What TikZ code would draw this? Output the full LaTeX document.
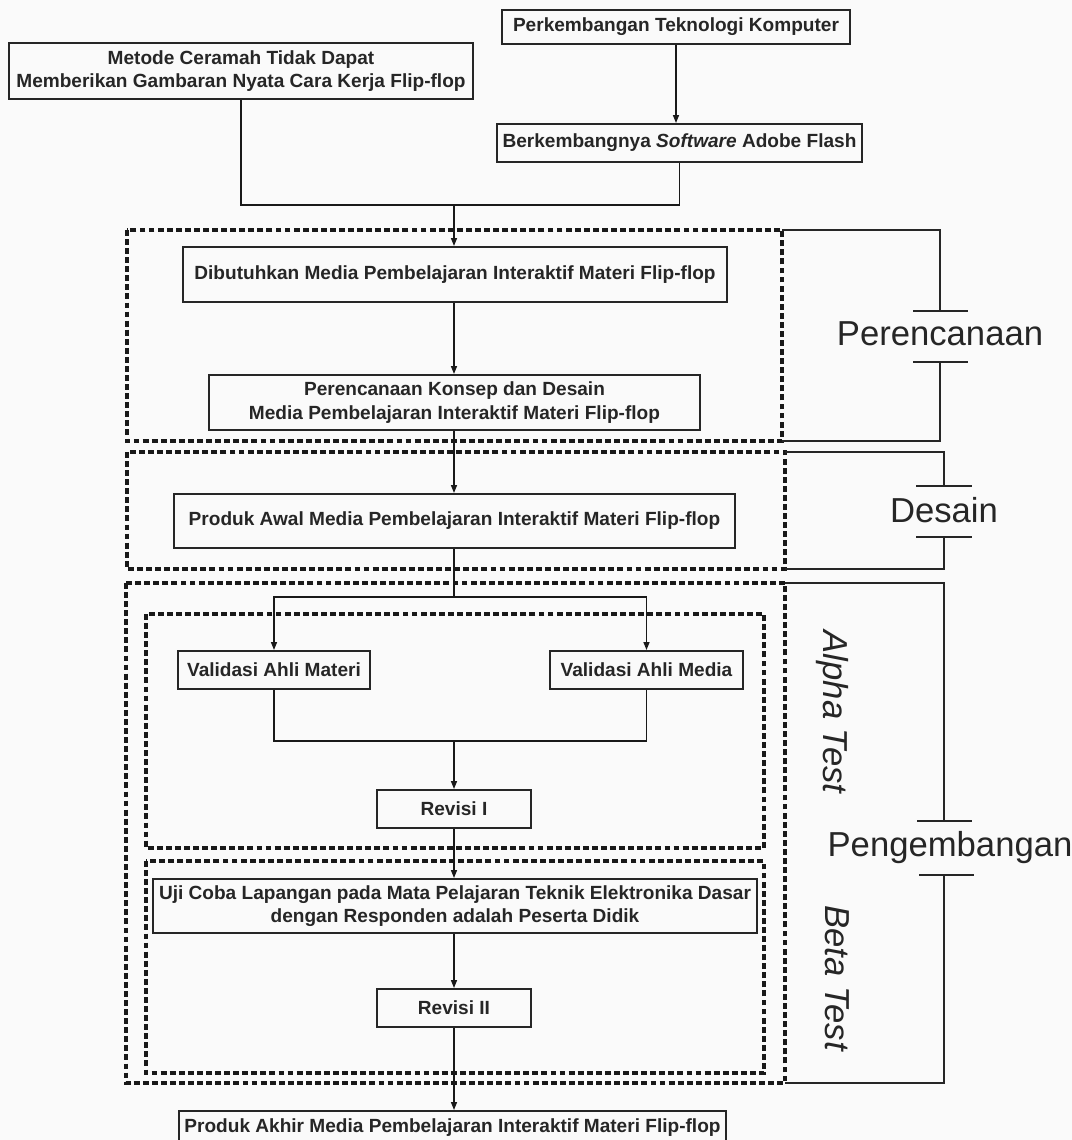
\documentclass[tikz,border=0pt]{standalone}
\usepackage{fontspec}
\setmainfont{Liberation Sans}
\usetikzlibrary{arrows.meta}
\begin{document}
\begin{tikzpicture}[x=0.75pt,y=-0.75pt,
  procbox/.style 2 args={draw=black!85, line width=1.5pt, inner sep=0pt,
    minimum width=#1*0.75pt, minimum height=#2*0.75pt, align=center,
    font=\fontsize{14.3}{17.5}\selectfont\bfseries, text=black!85},
  flow/.style={draw=black!90, line width=1.1pt},
  arr/.style={flow, -{Triangle[length=6pt,width=4.5pt]}},
  stage/.style={draw=black!90, line width=2.3pt, dash pattern=on 4.4pt off 2.4pt},
  bracket/.style={draw=black!85, line width=2.2pt},
  phase/.style={font=\fontsize{26}{30}\selectfont, text=black!85, inner sep=0pt, anchor=base},
  subphase/.style={font=\fontsize{26}{30}\selectfont\itshape, text=black!85, inner sep=0pt, rotate=-90}
]
% canvas
\fill[white!98!black] (0,0) rectangle (1072,1140);
\useasboundingbox (0,0) rectangle (1072,1140);

% stage frames
\draw[stage] (127,230) rectangle (782,441);
\draw[stage] (127,452) rectangle (785,569);
\draw[stage] (126,583) rectangle (785,1083);
\draw[stage] (146,614) rectangle (764,848);
\draw[stage] (146,861) rectangle (764,1073);

% phase brackets
\draw[bracket] (782,230) -| (940,311);
\draw[bracket] (913,311) -- (968,311);
\node[phase] (lplan) at (940,345) {Perencanaan};
\draw[bracket] (913,362) -- (968,362);
\draw[bracket] (940,362) |- (782,441);

\draw[bracket] (785,452) -| (944,486);
\draw[bracket] (916,486) -- (972,486);
\node[phase] (ldesign) at (944,522) {Desain};
\draw[bracket] (916,537) -- (972,537);
\draw[bracket] (944,537) |- (785,569);

\draw[bracket] (785,583) -| (944,821);
\draw[bracket] (917,821) -- (972,821);
\node[phase] (ldev) at (950,856) {Pengembangan};
\draw[bracket] (919,875) -- (974,875);
\draw[bracket] (944,875) |- (785,1083);

\node[subphase] (lalpha) at (832,712) {Alpha Test};
\node[subphase] (lbeta) at (837,978) {Beta Test};

% process boxes
\node[procbox={464}{56}] (A) at (241,71) {Metode Ceramah Tidak Dapat\\Memberikan Gambaran Nyata Cara Kerja Flip-flop};
\node[procbox={348}{34}] (B) at (676,27) {Perkembangan Teknologi Komputer};
\node[procbox={365}{38}] (C) at (679.5,143) {Berkembangnya \textit{Software} Adobe Flash};
\node[procbox={544}{55}] (D) at (455,274.5) {Dibutuhkan Media Pembelajaran Interaktif Materi Flip-flop};
\node[procbox={491}{55}] (E) at (454.5,402.5) {Perencanaan Konsep dan Desain\\Media Pembelajaran Interaktif Materi Flip-flop};
\node[procbox={561}{54}] (F) at (454.5,521) {Produk Awal Media Pembelajaran Interaktif Materi Flip-flop};
\node[procbox={192}{38}] (G) at (274,670) {Validasi Ahli Materi};
\node[procbox={193}{38}] (H) at (646.5,670) {Validasi Ahli Media};
\node[procbox={154}{38}] (R1) at (454,809) {Revisi I};
\node[procbox={604}{54}] (U) at (455,906) {Uji Coba Lapangan pada Mata Pelajaran Teknik Elektronika Dasar\\dengan Responden adalah Peserta Didik};
\node[procbox={154}{38}] (R2) at (454,1008) {Revisi II};
\node[procbox={547}{34}] (P) at (452.5,1128) {Produk Akhir Media Pembelajaran Interaktif Materi Flip-flop};

% junction points
\coordinate (J) at (454,205);
\coordinate (S) at (454,597);
\coordinate (M) at (454,741);

% connectors
\draw[arr] (B.south) -- (B.south |- C.north);
\draw[flow] (A.south) |- (J) -| (C.south);
\draw[arr] (J) -- (J |- D.north);
\draw[arr] (D.south -| J) -- (E.north -| J);
\draw[arr] (E.south -| J) -- (F.north -| J);
\draw[flow] (F.south -| S) -- (S);
\draw[arr] (S) -| (G.north);
\draw[arr] (S) -| (H.north);
\draw[flow] (G.south) |- (M);
\draw[flow] (H.south) |- (M);
\draw[arr] (M) -- (R1.north -| M);
\draw[arr] (R1.south -| M) -- (U.north -| M);
\draw[arr] (U.south -| M) -- (R2.north -| M);
\draw[arr] (R2.south -| M) -- (P.north -| M);
\end{tikzpicture}
\end{document}
